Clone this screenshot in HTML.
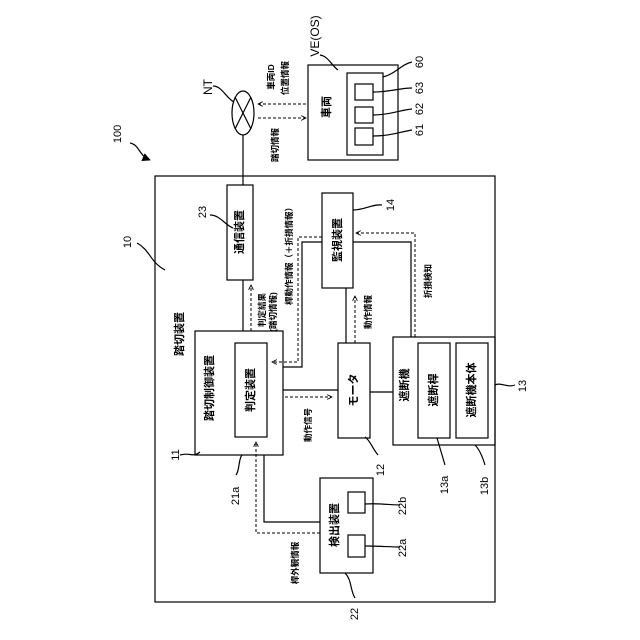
<!DOCTYPE html>
<html><head><meta charset="utf-8"><style>
html,body{margin:0;padding:0;background:#fff;}
svg{display:block;}
text{font-family:"Liberation Sans","Noto Sans CJK JP",sans-serif;fill:#000;}
</style></head><body>
<svg width="640" height="640" viewBox="0 0 640 640" xmlns="http://www.w3.org/2000/svg">
<defs>
<marker id="ah" viewBox="0 0 10 10" refX="9" refY="5" markerWidth="6" markerHeight="6" orient="auto"><path d="M1,1 L9,5 L1,9" fill="none" stroke="#000" stroke-width="1.5"/></marker>
<marker id="af" viewBox="0 0 10 10" refX="9" refY="5" markerWidth="7" markerHeight="7" orient="auto"><path d="M0,0 L10,5 L0,10 Z" fill="#000"/></marker>
</defs>
<g fill="none" stroke="#000" stroke-width="1.2">
<rect x="155" y="176" width="340" height="426"/>
<ellipse cx="243" cy="113" rx="11" ry="22"/>
<line x1="235" y1="97" x2="251" y2="129"/><line x1="251" y1="97" x2="235" y2="129"/>
<line x1="243" y1="135" x2="243" y2="185"/>
<rect x="308" y="65" width="90" height="95"/>
<rect x="347" y="73" width="36" height="82"/>
<rect x="355" y="84" width="18" height="16"/>
<rect x="355" y="107" width="18" height="16"/>
<rect x="355" y="128" width="18" height="17"/>
<rect x="227" y="185" width="26" height="95"/>
<rect x="322" y="193" width="31" height="95"/>
<rect x="195" y="331" width="88" height="124"/>
<rect x="235" y="343" width="32" height="94"/>
<rect x="338" y="343" width="32" height="95"/>
<rect x="393" y="337" width="102" height="108"/>
<rect x="418" y="343" width="32" height="95"/>
<rect x="456" y="343" width="32" height="95"/>
<rect x="320" y="478" width="53" height="95"/>
<rect x="348" y="492" width="17" height="21"/>
<rect x="348" y="535" width="17" height="22"/>
<line x1="243" y1="280" x2="243" y2="331"/>
<polyline points="322,242 302,242 302,367 283,367"/>
<polyline points="353,242 411,242 411,337"/>
<line x1="346" y1="288" x2="346" y2="343"/>
<line x1="283" y1="390" x2="338" y2="390"/>
<line x1="370" y1="392" x2="393" y2="392"/>
<polyline points="264,455 264,522 320,522"/>
<path d="M213,86 C222,86 226,98 234,102"/>
<path d="M320,55 C328,56 332,66 338,70"/>
<path d="M383,77 C395,74 402,64 412,62"/>
<path d="M373,92 C390,92 400,88 412,88"/>
<path d="M373,115 C390,115 400,110 412,109"/>
<path d="M373,136 C390,136 400,132 412,130"/>
<path d="M210,215 C220,215 225,225 233,228"/>
<path d="M353,210 C365,210 372,204 382,205"/>
<path d="M137,243 C150,250 150,262 165,270" />
<path d="M180,455 C190,452 193,458 200,452"/>
<path d="M236,475 C240,470 238,460 242,455"/>
<path d="M378,455 C372,448 370,440 365,437"/>
<path d="M445,465 C442,455 440,448 437,438"/>
<path d="M485,465 C482,455 478,448 475,445"/>
<path d="M515,385 C508,388 500,382 495,385"/>
<path d="M400,505 C390,505 380,503 365,504"/>
<path d="M400,547 C390,547 380,546 365,546"/>
<path d="M355,598 C350,590 352,580 345,573"/>
<path d="M130,143 C140,145 138,155 150,160" marker-end="url(#af)"/>
</g>
<g fill="none" stroke="#000" stroke-width="1" stroke-dasharray="3,2">
<line x1="306" y1="104" x2="258" y2="104" marker-end="url(#ah)"/>
<line x1="258" y1="118" x2="306" y2="118" marker-end="url(#ah)"/>
<line x1="251" y1="331" x2="251" y2="285" marker-end="url(#ah)"/>
<polyline points="322,237 298,237 298,362 272,362" marker-end="url(#ah)"/>
<polyline points="415,337 415,233 356,233" marker-end="url(#ah)"/>
<line x1="355" y1="343" x2="355" y2="296" marker-end="url(#ah)"/>
<line x1="285" y1="397" x2="332" y2="397" marker-end="url(#ah)"/>
<polyline points="320,533 256,533 256,442" marker-end="url(#ah)"/>
</g>
<g font-size="11" text-anchor="middle" dominant-baseline="central">
<text transform="translate(208,87) rotate(-90)" font-size="12">NT</text>
<text transform="translate(315,36) rotate(-90)" font-size="12">VE(OS)</text>
<text transform="translate(327,107) rotate(-90)" font-weight="bold">車両</text>
<text transform="translate(420,62) rotate(-90)">60</text>
<text transform="translate(420,88) rotate(-90)">63</text>
<text transform="translate(420,109) rotate(-90)">62</text>
<text transform="translate(420,130) rotate(-90)">61</text>
<text transform="translate(118,134) rotate(-90)">100</text>
<text transform="translate(128,242) rotate(-90)">10</text>
<text transform="translate(203,212) rotate(-90)">23</text>
<text transform="translate(391,205) rotate(-90)">14</text>
<text transform="translate(176,455) rotate(-90)">11</text>
<text transform="translate(236,496) rotate(-90)">21a</text>
<text transform="translate(381,470) rotate(-90)">12</text>
<text transform="translate(445,485) rotate(-90)">13a</text>
<text transform="translate(485,486) rotate(-90)">13b</text>
<text transform="translate(523,386) rotate(-90)">13</text>
<text transform="translate(403,506) rotate(-90)">22b</text>
<text transform="translate(403,548) rotate(-90)">22a</text>
<text transform="translate(355,614) rotate(-90)">22</text>
</g>
<g font-size="11" text-anchor="middle" dominant-baseline="central" font-weight="bold">
<text transform="translate(240,232) rotate(-90)">通信装置</text>
<text transform="translate(338,240) rotate(-90)">監視装置</text>
<text transform="translate(180,334) rotate(-90)">踏切装置</text>
<text transform="translate(210,388) rotate(-90)">踏切制御装置</text>
<text transform="translate(251,390) rotate(-90)">判定装置</text>
<text transform="translate(354,390) rotate(-90)">モータ</text>
<text transform="translate(405,385) rotate(-90)">遮断機</text>
<text transform="translate(434,390) rotate(-90)">遮断桿</text>
<text transform="translate(472,390) rotate(-90)">遮断機本体</text>
<text transform="translate(335,525) rotate(-90)">検出装置</text>
</g>
<g font-size="8.5" text-anchor="middle" dominant-baseline="central" font-weight="bold">
<text transform="translate(271,77) rotate(-90)">車両ID</text>
<text transform="translate(285,78) rotate(-90)">位置情報</text>
<text transform="translate(275,145) rotate(-90)">踏切情報</text>
<text transform="translate(289,254) rotate(-90)">桿動作情報（＋折損情報）</text>
<text transform="translate(262,310) rotate(-90)">判定結果</text>
<text transform="translate(273,312) rotate(-90)">(踏切情報)</text>
<text transform="translate(368,312) rotate(-90)">動作情報</text>
<text transform="translate(428,281) rotate(-90)">折損検知</text>
<text transform="translate(308,425) rotate(-90)">動作信号</text>
<text transform="translate(295,563) rotate(-90)">桿外観情報</text>
</g>
</svg>
</body></html>
